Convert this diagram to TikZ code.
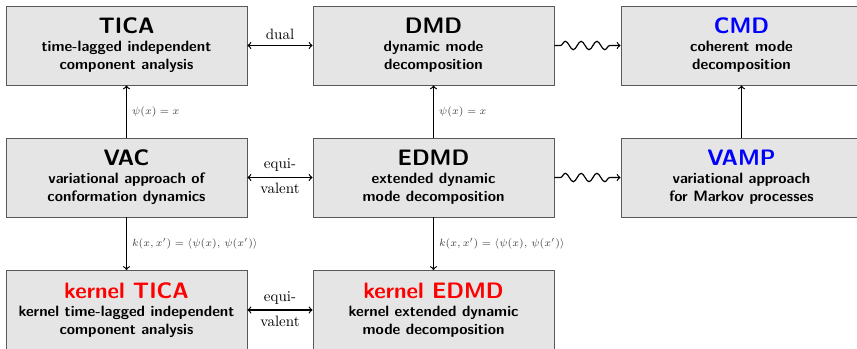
\documentclass[tikz,border=0pt]{standalone}
\usetikzlibrary{decorations.pathmorphing}
\newcommand{\ttlsize}{\fontsize{14.9}{18}\selectfont}
\begin{document}
\begin{tikzpicture}[x=0.6667pt,y=-0.6667pt,
  box/.style={draw=black!65,line width=0.6pt,fill=gray!20,minimum width=160.7pt,minimum height=52.7pt,
    align=center,font=\sffamily\bfseries,inner sep=2pt},
  conn/.style={thick},
  wavy/.style={thick,decorate,decoration={snake,amplitude=2.8pt,segment length=10.5pt,pre length=4pt,post length=6pt}},
  lab/.style={font=\scriptsize,text=black!75}]
\useasboundingbox (0,0) rectangle (857,349);
\node[box] (tica) at (126.5,45.5) {{\ttlsize TICA}\\time-lagged independent\\component analysis};
\node[box] (dmd) at (433.5,45.5) {{\ttlsize DMD}\\dynamic mode\\decomposition};
\node[box] (cmd) at (741.5,45.5) {{\ttlsize\color{blue}CMD}\\coherent mode\\decomposition};
\node[box] (vac) at (126.5,177.5) {{\ttlsize VAC}\\variational approach of\\conformation dynamics};
\node[box] (edmd) at (433.5,177.5) {{\ttlsize EDMD}\\extended dynamic\\mode decomposition};
\node[box] (vamp) at (741.5,177.5) {{\ttlsize\color{blue}VAMP}\\variational approach\\for Markov processes};
\node[box] (ktica) at (126.5,310) {{\ttlsize\color{red}kernel TICA}\\kernel time-lagged independent\\component analysis};
\node[box] (kedmd) at (433.5,310) {{\ttlsize\color{red}kernel EDMD}\\kernel extended dynamic\\mode decomposition};
\draw[conn,<->] (tica) -- node[above]{dual} (dmd);
\draw[wavy,->] (dmd) -- (cmd);
\draw[conn,<->] (vac) -- node[above]{equi-} node[below]{valent} (edmd);
\draw[wavy,->] (edmd) -- (vamp);
\draw[conn,<->] (ktica) -- node[above]{equi-} node[below]{valent} (kedmd);
\draw[conn,->] (vac) -- node[right,lab]{$\psi(x)=x$} (tica);
\draw[conn,->] (edmd) -- node[right,lab]{$\psi(x)=x$} (dmd);
\draw[conn,->] (vamp) -- (cmd);
\draw[conn,->] (vac) -- node[right,lab]{$k(x,x')=\langle\psi(x),\,\psi(x')\rangle$} (ktica);
\draw[conn,->] (edmd) -- node[right,lab]{$k(x,x')=\langle\psi(x),\,\psi(x')\rangle$} (kedmd);
\end{tikzpicture}
\end{document}
